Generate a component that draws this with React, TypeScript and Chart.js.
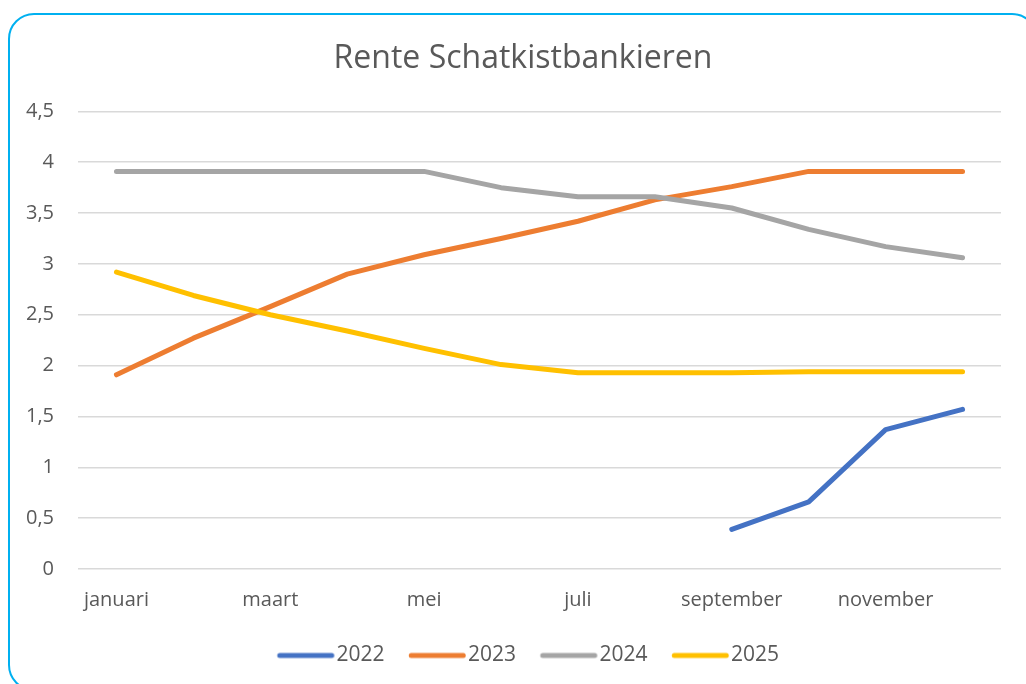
import React, { useEffect, useRef } from "react";
import { Chart, registerables } from "chart.js";

Chart.register(...registerables);

const months = [
  "januari", "februari", "maart", "april", "mei", "juni",
  "juli", "augustus", "september", "oktober", "november", "december",
];
const y2022 = [null, null, null, null, null, null, null, null, 0.39, 0.66, 1.37, 1.57];
const y2023 = [1.91, 2.27, 2.58, 2.9, 3.09, 3.25, 3.42, 3.63, 3.76, 3.91, 3.91, 3.91];
const y2024 = [3.91, 3.91, 3.91, 3.91, 3.91, 3.75, 3.66, 3.66, 3.55, 3.34, 3.17, 3.06];
const y2025 = [2.92, 2.69, 2.5, 2.34, 2.17, 2.01, 1.93, 1.93, 1.93, 1.94, 1.94, 1.94];
const seriesNames = ["2022", "2023", "2024", "2025"];
const seriesColors = ["#4472C4", "#ED7D31", "#A5A5A5", "#FFC000"];
const yTicks = [0, 0.5, 1, 1.5, 2, 2.5, 3, 3.5, 4, 4.5];
const title = "Rente Schatkistbankieren";

const FONT = "'Open Sans', sans-serif";
const TEXT = "#595959";

function legendLine(color: string): HTMLCanvasElement {
  const c = document.createElement("canvas");
  c.width = 80;
  c.height = 10;
  const ctx = c.getContext("2d")!;
  ctx.strokeStyle = color;
  ctx.lineWidth = 5;
  ctx.lineCap = "round";
  ctx.beginPath();
  ctx.moveTo(23.25, 5);
  ctx.lineTo(75.25, 5);
  ctx.stroke();
  return c;
}

export default function App() {
  const ref = useRef<HTMLCanvasElement | null>(null);
  useEffect(() => {
    if (!ref.current) return;
    const data = [y2022, y2023, y2024, y2025];
    const chart = new Chart(ref.current, {
      type: "line",
      data: {
        labels: months,
        datasets: data.map((d, i) => ({
          label: seriesNames[i],
          data: d,
          borderColor: seriesColors[i],
          backgroundColor: seriesColors[i],
          borderWidth: 5,
          borderCapStyle: "round",
          borderJoinStyle: "round",
          pointRadius: 0,
          pointHoverRadius: 0,
          pointStyle: legendLine(seriesColors[i]),
          tension: 0,
          spanGaps: false,
          order: 3 - i,
        })),
      },
      options: {
        responsive: false,
        animation: false,
        layout: { padding: { left: 20, right: 0, top: 40, bottom: 8 } },
        plugins: {
          title: {
            display: true,
            text: title,
            color: TEXT,
            font: { family: FONT, size: 32, weight: "normal" },
            padding: { top: 0, bottom: 33 },
          },
          legend: {
            position: "bottom",
            labels: {
              usePointStyle: true,
              pointStyleWidth: 59,
              boxHeight: 21,
              color: TEXT,
              font: { family: FONT, size: 21 },
              padding: 14,
              sort: (a: any, b: any) => a.datasetIndex - b.datasetIndex,
            },
          },
          tooltip: { enabled: false },
        },
        scales: {
          x: {
            offset: true,
            grid: { display: false, drawTicks: false },
            border: { display: false },
            ticks: {
              autoSkip: false,
              maxRotation: 0,
              color: TEXT,
              font: { family: FONT, size: 20 },
              padding: 19,
              callback: (_v: any, i: number) => (i % 2 === 0 ? months[i] : ""),
            },
          },
          y: {
            min: 0,
            max: 4.5,
            afterFit: (s: any) => {
              s.width = 58;
            },
            afterBuildTicks: (s: any) => {
              s.ticks = yTicks.map((v) => ({ value: v }));
            },
            grid: { color: "#D9D9D9", lineWidth: 1.5, drawTicks: false },
            border: { display: false },
            ticks: {
              color: TEXT,
              font: { family: FONT, size: 20 },
              padding: 24,
              callback: (v: any) => String(v).replace(".", ","),
            },
          },
          y2: {
            type: "linear",
            position: "right",
            display: true,
            min: 0,
            max: 4.5,
            afterFit: (s: any) => {
              s.width = 25;
            },
            grid: { display: false, drawTicks: false },
            border: { display: false },
            ticks: { display: false },
          },
        },
      },
    });
    return () => chart.destroy();
  }, []);
  return (
    <div style={{ position: "absolute", left: 0, top: 0, width: 1026, height: 684, overflow: "hidden", background: "#fff" }}>
      <div
        style={{
          position: "absolute",
          left: 8,
          top: 13,
          width: 1030,
          height: 678,
          boxSizing: "border-box",
          border: "2.5px solid #00B0F0",
          borderRadius: 26,
        }}
      />
      <canvas ref={ref} width={1026} height={684} style={{ position: "absolute", left: 0, top: 0 }} />
    </div>
  );
}
